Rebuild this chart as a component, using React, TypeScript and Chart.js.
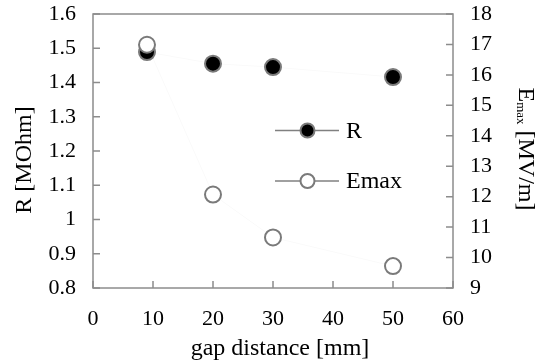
import React, { useEffect, useRef } from "react";
import { Chart, registerables } from "chart.js";

Chart.register(...registerables);

const gapDistance = [9, 20, 30, 50];
const rValues = [1.489, 1.455, 1.445, 1.416];
const emaxValues = [16.99, 12.07, 10.66, 9.72];
const seriesNames = ["R", "Emax"];

const FONT = "'Liberation Serif', 'Times New Roman', serif";
const FRAME = "#8c8c8c";
const MARKER_EDGE = "#7a7a7a";

const fmt = (v: any) => String(parseFloat(Number(v).toFixed(2)));

const framePlugin = {
  id: "frame",
  beforeDatasetsDraw(chart: any) {
    const { ctx, chartArea: a, scales } = chart;
    ctx.save();
    ctx.strokeStyle = FRAME;
    ctx.lineWidth = 1.5;
    ctx.strokeRect(a.left, a.top, a.right - a.left, a.bottom - a.top);
    const tl = 7;
    ctx.beginPath();
    scales.x.ticks.forEach((t: any) => {
      const px = scales.x.getPixelForValue(t.value);
      ctx.moveTo(px, a.bottom);
      ctx.lineTo(px, a.bottom - tl);
    });
    scales.y.ticks.forEach((t: any) => {
      const py = scales.y.getPixelForValue(t.value);
      ctx.moveTo(a.left, py);
      ctx.lineTo(a.left + tl, py);
    });
    scales.y2.ticks.forEach((t: any) => {
      const py = scales.y2.getPixelForValue(t.value);
      ctx.moveTo(a.right, py);
      ctx.lineTo(a.right - tl, py);
    });
    ctx.stroke();
    ctx.restore();
  },
  afterDatasetsDraw(chart: any) {
    const { ctx } = chart;
    ctx.save();
    // legend
    const items = [
      { name: seriesNames[0], fill: "#000000", y: 130.5 },
      { name: seriesNames[1], fill: "#ffffff", y: 181 },
    ];
    items.forEach((it) => {
      ctx.strokeStyle = "#808080";
      ctx.lineWidth = 1.3;
      ctx.beginPath();
      ctx.moveTo(275, it.y);
      ctx.lineTo(339, it.y);
      ctx.stroke();
      ctx.beginPath();
      ctx.arc(307.5, it.y, 7, 0, Math.PI * 2);
      ctx.fillStyle = it.fill;
      ctx.fill();
      ctx.strokeStyle = MARKER_EDGE;
      ctx.lineWidth = 2;
      ctx.stroke();
      ctx.fillStyle = "#000";
      ctx.font = `24px ${FONT}`;
      ctx.textBaseline = "middle";
      ctx.textAlign = "left";
      ctx.fillText(it.name, 346, it.y + 1);
    });
    ctx.fillStyle = "#000";
    // left title
    ctx.save();
    ctx.translate(31, 160);
    ctx.rotate(-Math.PI / 2);
    ctx.font = `24px ${FONT}`;
    ctx.textAlign = "center";
    ctx.textBaseline = "alphabetic";
    ctx.fillText("R [MOhm]", 0, 0);
    ctx.restore();
    // right title with subscript
    ctx.save();
    ctx.translate(519, 149);
    ctx.rotate(Math.PI / 2);
    const big = `24px ${FONT}`;
    const small = `13px ${FONT}`;
    ctx.font = big;
    const wE = ctx.measureText("E").width;
    const wRest = ctx.measureText(" [MV/m]").width;
    ctx.font = small;
    const wSub = ctx.measureText("max").width;
    const total = wE + wSub + wRest;
    let x = -total / 2;
    ctx.textBaseline = "alphabetic";
    ctx.textAlign = "left";
    ctx.font = big;
    ctx.fillText("E", x, 0);
    x += wE;
    ctx.font = small;
    ctx.fillText("max", x, 2);
    x += wSub;
    ctx.font = big;
    ctx.fillText(" [MV/m]", x, 0);
    ctx.restore();
    // x title
    ctx.font = `24px ${FONT}`;
    ctx.textAlign = "center";
    ctx.textBaseline = "alphabetic";
    ctx.fillText("gap distance [mm]", 280, 355);
    ctx.restore();
  },
};

export default function App() {
  const ref = useRef<HTMLCanvasElement | null>(null);
  useEffect(() => {
    document.body.style.margin = "0";
    const canvas = ref.current!;
    const tickFont = { family: FONT, size: 22 };
    const chart = new Chart(canvas, {
      type: "scatter",
      data: {
        datasets: [
          {
            label: seriesNames[1],
            data: gapDistance.map((x, i) => ({ x, y: emaxValues[i] })),
            yAxisID: "y2",
            showLine: true,
            borderColor: "rgba(0,0,0,0.025)",
            borderWidth: 1,
            pointRadius: 8,
            pointBackgroundColor: "#ffffff",
            pointBorderColor: MARKER_EDGE,
            pointBorderWidth: 2,
          },
          {
            label: seriesNames[0],
            data: gapDistance.map((x, i) => ({ x, y: rValues[i] })),
            yAxisID: "y",
            showLine: true,
            borderColor: "rgba(0,0,0,0.025)",
            borderWidth: 1,
            pointRadius: 8,
            pointBackgroundColor: "#000000",
            pointBorderColor: MARKER_EDGE,
            pointBorderWidth: 2,
          },
        ],
      },
      options: {
        animation: false,
        responsive: true,
        maintainAspectRatio: false,
        layout: { padding: { top: 14, left: 0, right: 0, bottom: 0 } },
        plugins: { legend: { display: false }, tooltip: { enabled: false } },
        scales: {
          x: {
            type: "linear",
            min: 0,
            max: 60,
            ticks: { stepSize: 10, autoSkip: false, maxRotation: 0, color: "#000", font: tickFont, padding: 18, callback: fmt },
            grid: { display: false, drawTicks: false },
            border: { display: false },
            afterFit: (s: any) => {
              s.height = 76;
              s.paddingLeft = 0;
              s.paddingRight = 0;
            },
          },
          y: {
            position: "left",
            min: 0.8,
            max: 1.6,
            ticks: { stepSize: 0.1, autoSkip: false, color: "#000", font: tickFont, padding: 17, callback: fmt },
            grid: { display: false, drawTicks: false },
            border: { display: false },
            afterFit: (s: any) => {
              s.width = 93;
              s.paddingTop = 0;
              s.paddingBottom = 0;
            },
          },
          y2: {
            position: "right",
            min: 9,
            max: 18,
            ticks: { stepSize: 1, autoSkip: false, color: "#000", font: tickFont, padding: 17, callback: fmt },
            grid: { display: false, drawTicks: false },
            border: { display: false },
            afterFit: (s: any) => {
              s.width = 84;
              s.paddingTop = 0;
              s.paddingBottom = 0;
            },
          },
        },
      },
      plugins: [framePlugin],
    });
    return () => chart.destroy();
  }, []);
  return (
    <div style={{ position: "relative", width: 537, height: 364 }}>
      <canvas ref={ref} />
    </div>
  );
}
